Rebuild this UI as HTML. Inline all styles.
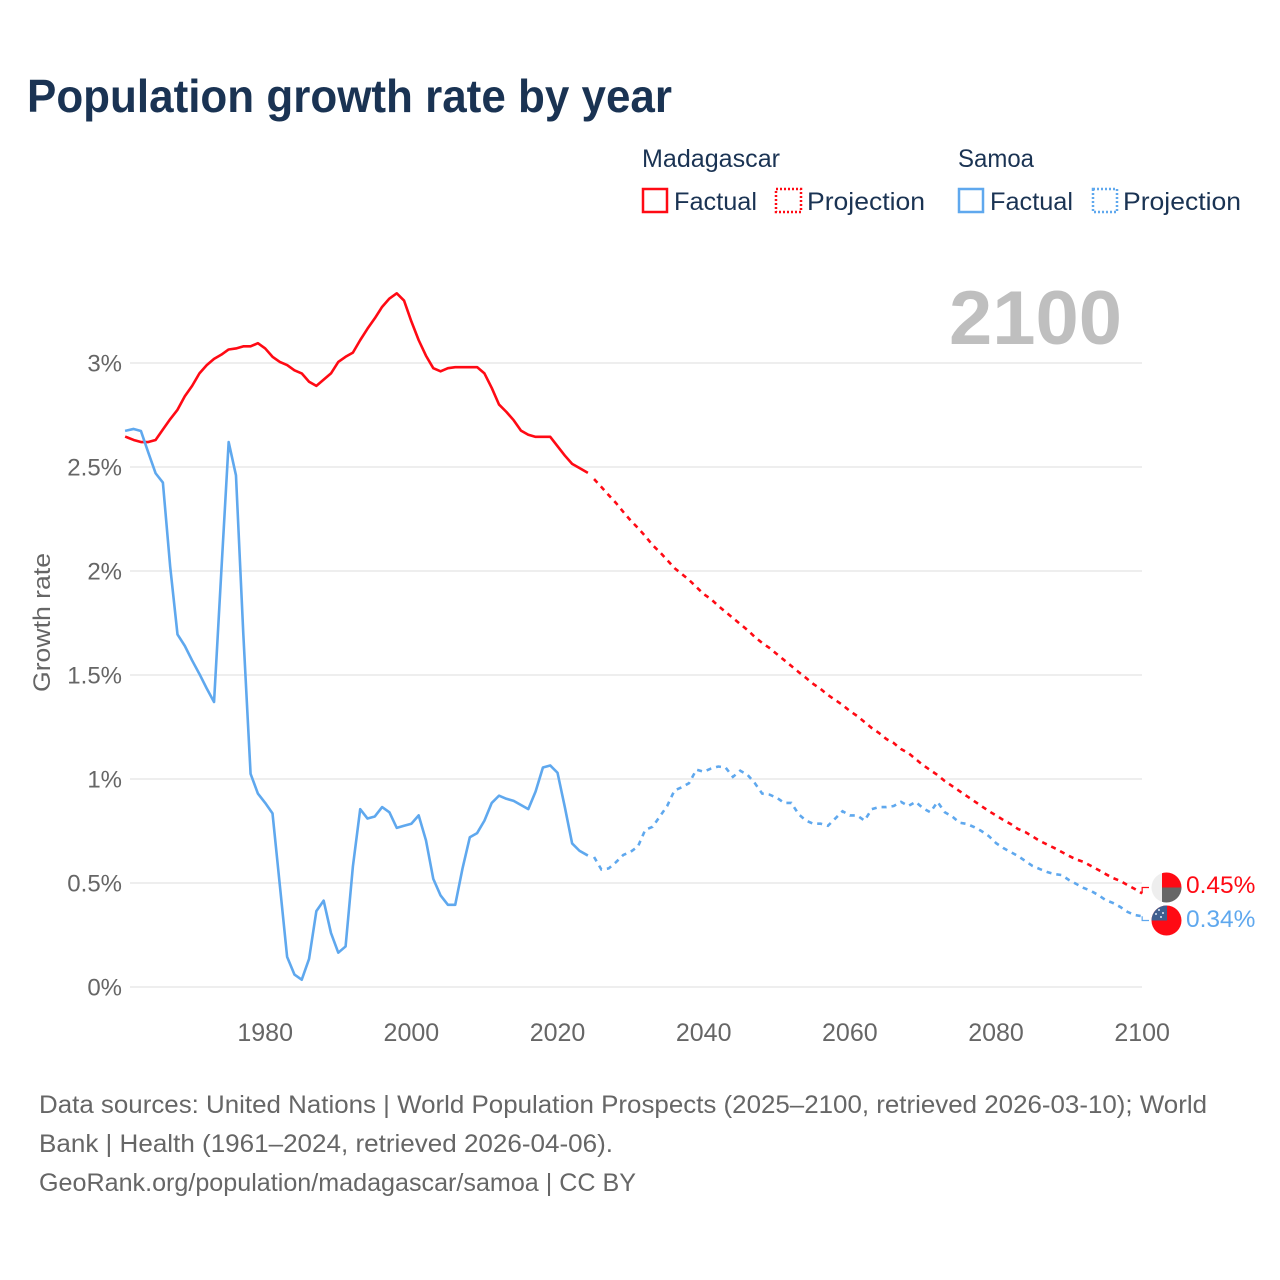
<!DOCTYPE html>
<html lang="en">
<head>
<meta charset="utf-8">
<title>Population growth rate by year</title>
<style>
html,body{margin:0;padding:0;background:#fff;width:1280px;height:1280px;overflow:hidden}
svg{display:block}
text{font-family:"Liberation Sans",sans-serif}
</style>
</head>
<body>
<svg id="chart" xmlns="http://www.w3.org/2000/svg" width="1280" height="1280" viewBox="0 0 1280 1280">
  <text x="27" y="112" font-size="46" font-weight="700" fill="#1a3353" textLength="645" lengthAdjust="spacingAndGlyphs">Population growth rate by year</text>

  <g font-size="25" fill="#1a3353">
    <text x="642" y="167" textLength="138" lengthAdjust="spacingAndGlyphs">Madagascar</text>
    <text x="958" y="167" textLength="76" lengthAdjust="spacingAndGlyphs">Samoa</text>
    <g>
      <rect x="643" y="189" width="24" height="23" fill="none" stroke="#ff0a14" stroke-width="2.5"/>
      <text x="674" y="210" textLength="83" lengthAdjust="spacingAndGlyphs">Factual</text>
    </g>
    <g>
      <rect x="776" y="189" width="25" height="23" fill="none" stroke="#ff0a14" stroke-width="2.5" stroke-dasharray="2 2"/>
      <text x="807" y="210" textLength="118" lengthAdjust="spacingAndGlyphs">Projection</text>
    </g>
    <g>
      <rect x="959" y="189" width="24" height="23" fill="none" stroke="#5fa8ee" stroke-width="2.5"/>
      <text x="990" y="210" textLength="83" lengthAdjust="spacingAndGlyphs">Factual</text>
    </g>
    <g>
      <rect x="1093" y="189" width="24" height="23" fill="none" stroke="#5fa8ee" stroke-width="2.5" stroke-dasharray="2 2"/>
      <text x="1123" y="210" textLength="118" lengthAdjust="spacingAndGlyphs">Projection</text>
    </g>
  </g>

  <text x="949" y="344" font-size="76" font-weight="700" fill="#bfbfbf" textLength="173" lengthAdjust="spacingAndGlyphs">2100</text>
  <text transform="translate(50,692) rotate(-90)" font-size="24" fill="#666666" textLength="139" lengthAdjust="spacingAndGlyphs">Growth rate</text>

  <g id="grid"></g>
  <g id="yticks"></g>
  <g id="xticks"></g>
  <g id="series"></g>
  <g id="leaders"></g>

  <defs>
    <clipPath id="clip-mg"><circle cx="1166.5" cy="887.5" r="15"/></clipPath>
    <clipPath id="clip-ws"><circle cx="1166.5" cy="920.5" r="15"/></clipPath>
  </defs>
  <g clip-path="url(#clip-mg)">
    <rect x="1151" y="872" width="16" height="31" fill="#eeeeee"/>
    <rect x="1162" y="872" width="20" height="15.5" fill="#ff0a14"/>
    <rect x="1162" y="887.5" width="20" height="15.5" fill="#666666"/>
  </g>
  <g clip-path="url(#clip-ws)">
    <rect x="1151" y="905" width="31" height="31" fill="#ff0a14"/>
    <rect x="1151" y="905" width="16" height="15.5" fill="#3f5f8f"/>
    <circle cx="1159" cy="910" r="1" fill="#dfe8f5"/>
    <circle cx="1163" cy="913" r="1" fill="#dfe8f5"/>
    <circle cx="1156" cy="914" r="1" fill="#dfe8f5"/>
    <circle cx="1161" cy="917" r="1" fill="#dfe8f5"/>
  </g>

  <g id="endlabels"></g>

  <g font-size="25" fill="#666666">
    <text x="39" y="1113" textLength="1168" lengthAdjust="spacingAndGlyphs">Data sources: United Nations | World Population Prospects (2025–2100, retrieved 2026-03-10); World</text>
    <text x="39" y="1152" textLength="574" lengthAdjust="spacingAndGlyphs">Bank | Health (1961–2024, retrieved 2026-04-06).</text>
    <text x="39" y="1191" textLength="597" lengthAdjust="spacingAndGlyphs">GeoRank.org/population/madagascar/samoa | CC BY</text>
  </g>
</svg>

<script>
var factualStartYear = 1961;
var projectionStartYear = 2025;

var madagascarFactual = [
2.644,2.63,2.62,2.62,2.63,2.68,2.73,2.775,2.84,2.89,
2.95,2.99,3.02,3.04,3.065,3.07,3.08,3.08,3.095,3.07,
3.03,3.005,2.99,2.965,2.95,2.91,2.89,2.92,2.95,3.005,
3.03,3.05,3.11,3.165,3.215,3.27,3.31,3.335,3.30,3.20,
3.11,3.035,2.975,2.96,2.975,2.98,2.98,2.98,2.98,2.95,
2.88,2.80,2.765,2.725,2.675,2.655,2.645,2.645,2.645,2.60,
2.555,2.515,2.495,2.475];

var madagascarProjection = [
2.442,2.404,2.365,2.327,2.284,2.243,2.207,2.168,2.125,2.091,
2.053,2.014,1.986,1.957,1.923,1.889,1.865,1.832,1.803,1.774,
1.745,1.716,1.683,1.654,1.630,1.601,1.572,1.543,1.514,1.486,
1.457,1.433,1.404,1.380,1.356,1.327,1.303,1.274,1.245,1.221,
1.192,1.173,1.144,1.125,1.096,1.067,1.043,1.019,0.990,0.966,
0.942,0.918,0.894,0.870,0.846,0.825,0.803,0.784,0.760,0.745,
0.724,0.702,0.685,0.668,0.649,0.630,0.613,0.601,0.582,0.563,
0.543,0.524,0.510,0.490,0.471,0.45];

var samoaFactual = [
2.675,2.683,2.673,2.57,2.47,2.425,2.02,1.695,1.64,1.57,
1.505,1.435,1.37,2.0,2.62,2.46,1.70,1.025,0.93,0.885,
0.835,0.49,0.145,0.06,0.035,0.135,0.365,0.415,0.26,0.165,
0.195,0.58,0.855,0.81,0.82,0.865,0.84,0.765,0.775,0.785,
0.825,0.705,0.52,0.44,0.395,0.395,0.57,0.72,0.74,0.80,
0.885,0.92,0.905,0.895,0.875,0.855,0.94,1.055,1.065,1.03,
0.865,0.69,0.655,0.635];

var samoaProjection = [
0.625,0.565,0.57,0.60,0.635,0.65,0.675,0.755,0.77,0.82,
0.87,0.945,0.96,0.98,1.045,1.035,1.05,1.06,1.055,1.01,
1.04,1.02,0.98,0.93,0.925,0.91,0.885,0.885,0.83,0.80,
0.785,0.785,0.775,0.81,0.845,0.825,0.825,0.80,0.855,0.865,
0.865,0.87,0.89,0.87,0.89,0.86,0.84,0.89,0.84,0.82,
0.79,0.784,0.769,0.75,0.726,0.692,0.668,0.649,0.63,0.606,
0.582,0.567,0.553,0.543,0.538,0.514,0.495,0.476,0.462,0.442,
0.418,0.404,0.385,0.361,0.346,0.34];

var xTickYears = [1980,2000,2020,2040,2060,2080,2100];
var yTickValues = [0,0.5,1,1.5,2,2.5,3];
var yTickLabels = ["0%","0.5%","1%","1.5%","2%","2.5%","3%"];
var endValueLabels = ["0.45%","0.34%"];

var NS = "http://www.w3.org/2000/svg";
var RED = "#ff0a14";
var BLUE = "#5fa8ee";

function xScale(year){ return 265.2 + (year - 1980) * 7.308; }
function yScale(v){ return 987 - v * 208; }

function make(tag, parent, attrs){
  var el = document.createElementNS(NS, tag);
  for (var k in attrs) el.setAttribute(k, attrs[k]);
  parent.appendChild(el);
  return el;
}
function pathFrom(values, startYear){
  var d = "";
  for (var i = 0; i < values.length; i++){
    d += (i ? "L" : "M") + xScale(startYear + i).toFixed(2) + " " + yScale(values[i]).toFixed(2);
  }
  return d;
}

var grid = document.getElementById("grid");
var yticks = document.getElementById("yticks");
var xticks = document.getElementById("xticks");
var series = document.getElementById("series");
var leaders = document.getElementById("leaders");
var endlabels = document.getElementById("endlabels");

yTickValues.forEach(function(v, i){
  var line = make("line", grid, {x1:130, x2:1142, y1:yScale(v), y2:yScale(v), stroke:"#eeeeee", "stroke-width":2});
  
  
  var t = make("text", yticks, {x:122, y:yScale(v)+8.5, "text-anchor":"end", "font-size":24, fill:"#666666"});
  
  
  t.textContent = yTickLabels[i];
});

xTickYears.forEach(function(y){
  var t = make("text", xticks, {x:xScale(y), y:1041, "text-anchor":"middle", "font-size":25, fill:"#666666"});
  
  
  t.textContent = y;
});

var lineMad = make("path", series, {d:pathFrom(madagascarFactual, factualStartYear), fill:"none", stroke:RED, "stroke-width":2.6, "stroke-linejoin":"round", "stroke-linecap":"square"});



var lineMadP = make("path", series, {d:pathFrom(madagascarProjection, projectionStartYear), fill:"none", stroke:RED, "stroke-width":2.6, "stroke-dasharray":"5 5"});



var lineSam = make("path", series, {d:pathFrom(samoaFactual, factualStartYear), fill:"none", stroke:BLUE, "stroke-width":2.6, "stroke-linejoin":"round", "stroke-linecap":"square"});



var lineSamP = make("path", series, {d:pathFrom(samoaProjection, projectionStartYear), fill:"none", stroke:BLUE, "stroke-width":2.6, "stroke-dasharray":"5 5"});



var endX = xScale(2100);
var madEnd = yScale(madagascarProjection[madagascarProjection.length - 1]);
var samEnd = yScale(samoaProjection[samoaProjection.length - 1]);

var leadMad = make("path", leaders, {d:"M"+endX+" "+madEnd+"L"+endX+" 887.5L1149 887.5", fill:"none", stroke:RED, "stroke-width":1.2});



var leadSam = make("path", leaders, {d:"M"+endX+" "+samEnd+"L"+endX+" 920.5L1149 920.5", fill:"none", stroke:BLUE, "stroke-width":1.2});



var labMad = make("text", endlabels, {x:1186, y:893, "font-size":24.5, fill:RED});


labMad.textContent = endValueLabels[0];

var labSam = make("text", endlabels, {x:1186, y:927, "font-size":24.5, fill:BLUE});


labSam.textContent = endValueLabels[1];
</script>
</body>
</html>
